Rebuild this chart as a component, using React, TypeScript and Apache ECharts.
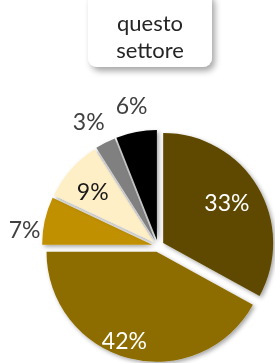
import React, { useEffect, useRef } from "react";
import * as echarts from "echarts";

const categories = ["A", "B", "C", "D", "E", "F"];
const values = [33, 42, 7, 9, 3, 6];
const colors = ["#5F4A00", "#8D6C00", "#C09000", "#FFEFC6", "#808080", "#000000"];
const labelColors = ["#FFFFFF", "#FFFFFF", "#404040", "#1A1A1A", "#404040", "#404040"];
const labelNudges = [[-6, 0], [-12, 10], [9, 15], [0, 3], [-3, 5], [1, 2]];
const insideIdx = [0, 1, 3];
const titleLines = ["questo", "settore"];

const FONT = "Lato, 'Open Sans', sans-serif";
const CENTER = [158, 246];
const R = 110;
const OFFSET = 6;

export default function App() {
  const ref = useRef<HTMLDivElement>(null);
  useEffect(() => {
    if (!ref.current) return;
    const chart = echarts.init(ref.current, null, { renderer: "svg" });
    const mkData = (mode: "pie" | "in" | "out") =>
      categories.map((name, i) => {
        const isIn = insideIdx.includes(i);
        const showLabel = mode === "in" ? isIn : mode === "out" ? !isIn : false;
        return {
          name,
          value: values[i],
          selected: true,
          itemStyle:
            mode === "pie"
              ? { color: colors[i] }
              : { color: "rgba(0,0,0,0)", shadowBlur: 0, borderWidth: 0 },
          label: {
            show: showLabel,
            color: labelColors[i],
          },
        };
      });
    const labelCommon = {
      position: "inside",
      formatter: "{c}%",
      fontFamily: FONT,
      fontSize: 23,
      fontWeight: "normal",
    };
    const nudge = (p: any) => {
      const n = labelNudges[p.dataIndex] || [0, 0];
      return { dx: n[0], dy: n[1] };
    };
    const base = {
      type: "pie",
      center: CENTER,
      startAngle: 90,
      clockwise: true,
      selectedMode: "multiple",
      selectedOffset: OFFSET,
      avoidLabelOverlap: false,
      labelLine: { show: false },
      emphasis: { disabled: true },
      select: { disabled: false },
    };
    chart.setOption({
      animation: false,
      graphic: [
        {
          type: "rect",
          shape: { x: 88, y: -8, width: 124, height: 75, r: 9 },
          style: {
            fill: "#FFFFFF",
            shadowBlur: 6,
            shadowOffsetX: 3,
            shadowOffsetY: 4,
            shadowColor: "rgba(0,0,0,0.35)",
          },
        },
        {
          type: "text",
          x: 150,
          y: 36,
          style: {
            text: titleLines.join("\n"),
            fill: "#262626",
            font: `22px ${FONT}`,
            lineHeight: 27,
            align: "center",
            verticalAlign: "middle",
          },
        },
      ],
      series: [
        {
          ...base,
          radius: R,
          itemStyle: {
            shadowBlur: 4,
            shadowOffsetX: 2,
            shadowOffsetY: 2,
            shadowColor: "rgba(0,0,0,0.35)",
          },
          label: { show: false },
          data: mkData("pie"),
        },
        {
          ...base,
          silent: true,
          radius: [46, R],
          label: labelCommon,
          labelLayout: nudge,
          data: mkData("in"),
        },
        {
          ...base,
          silent: true,
          radius: [120, 154],
          label: labelCommon,
          labelLayout: nudge,
          data: mkData("out"),
        },
      ],
    });
    return () => chart.dispose();
  }, []);
  return (
    <div
      ref={ref}
      style={{ position: "fixed", left: 0, top: 0, width: 275, height: 363 }}
    />
  );
}
